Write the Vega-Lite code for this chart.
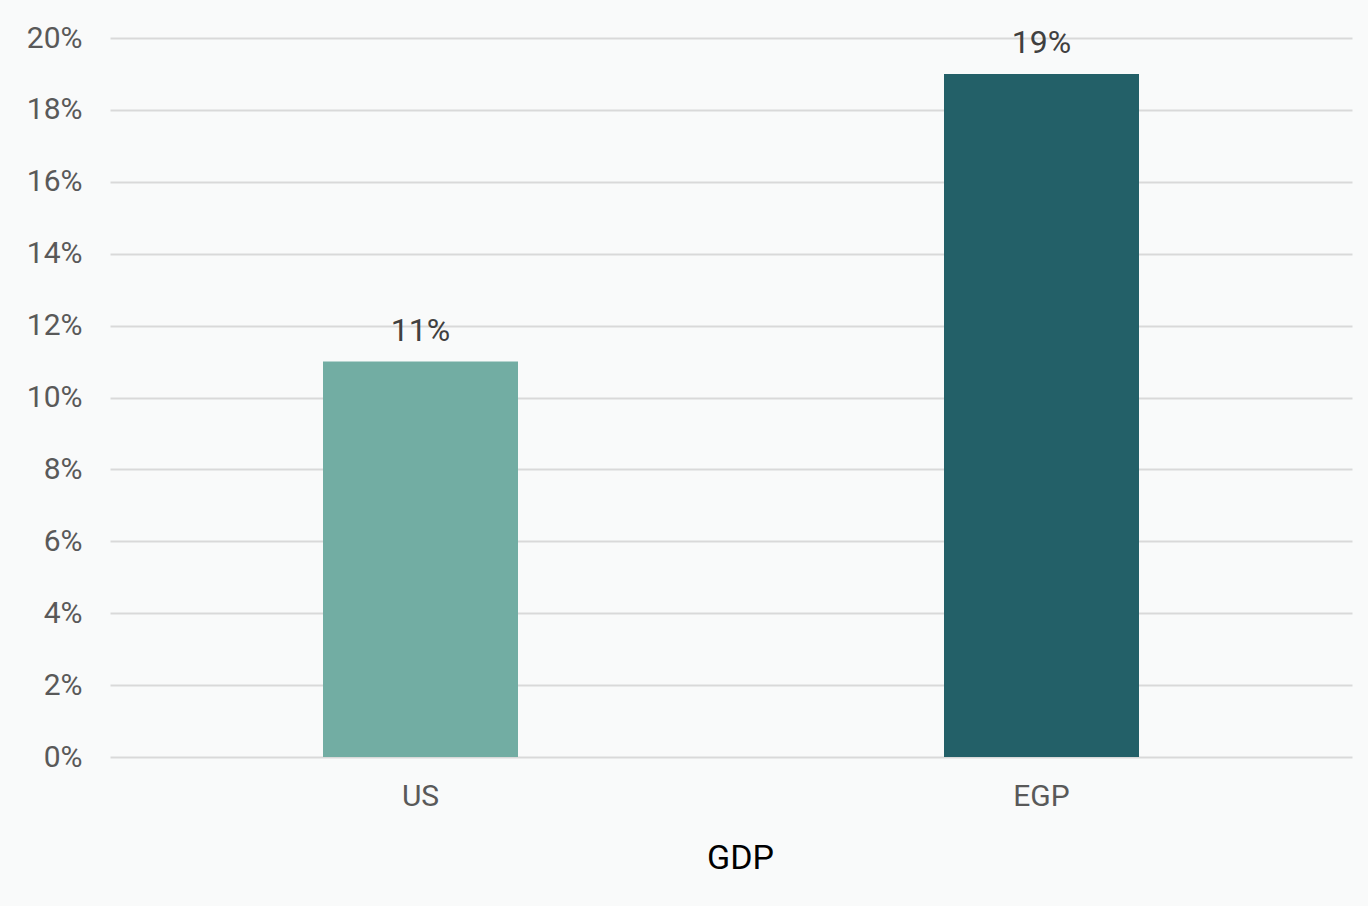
{
  "$schema": "https://vega.github.io/schema/vega-lite/v6.json",
  "width": 1242,
  "height": 719,
  "autosize": {"type": "none"},
  "padding": {"left": 110, "top": 38, "right": 16, "bottom": 149},
  "background": "#f9fafa",
  "config": {
    "view": {"stroke": null},
    "font": "Roboto"
  },
  "data": {
    "values": [
      {"country": "US", "value": 0.11, "color": "#72ada3"},
      {"country": "EGP", "value": 0.19, "color": "#236068"}
    ]
  },
  "encoding": {
    "x": {
      "field": "country",
      "type": "nominal",
      "sort": null,
      "scale": {"paddingInner": 0.686, "paddingOuter": 0.343},
      "axis": {
        "title": "GDP",
        "labelAngle": 0,
        "labelFontSize": 30,
        "labelColor": "#595959",
        "labelPadding": 24,
        "ticks": false,
        "domain": false,
        "titleFontSize": 34,
        "titleFontWeight": "normal",
        "titleColor": "#000000",
        "titlePadding": 30,
        "titleX": 630,
        "titleAlign": "center"
      }
    },
    "y": {
      "field": "value",
      "type": "quantitative",
      "scale": {"domain": [0, 0.2]},
      "axis": {
        "title": null,
        "format": ".0%",
        "values": [0, 0.02, 0.04, 0.06, 0.08, 0.1, 0.12, 0.14, 0.16, 0.18, 0.2],
        "labelOverlap": false,
        "labelFontSize": 30,
        "labelColor": "#595959",
        "labelPadding": 28,
        "ticks": false,
        "domain": false,
        "grid": true,
        "gridColor": "#d9d9d9",
        "gridWidth": 2
      }
    }
  },
  "layer": [
    {
      "mark": {"type": "bar"},
      "encoding": {
        "color": {"field": "color", "type": "nominal", "scale": null}
      }
    },
    {
      "mark": {"type": "text", "baseline": "bottom", "dy": -14, "fontSize": 32, "color": "#404040"},
      "encoding": {
        "text": {"field": "value", "type": "quantitative", "format": ".0%"}
      }
    }
  ]
}
